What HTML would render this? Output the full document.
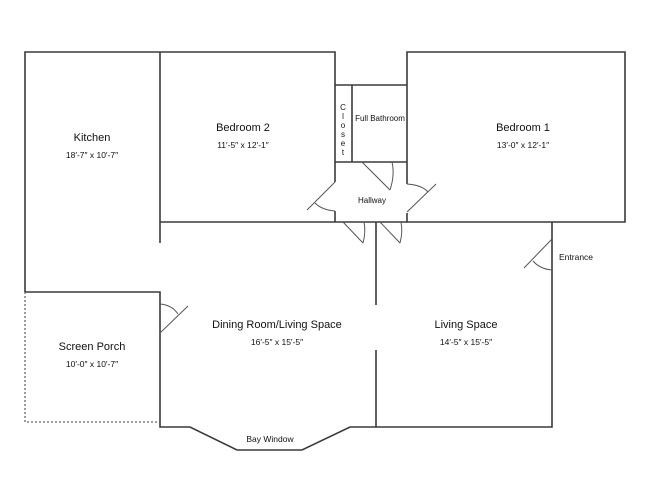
<!DOCTYPE html>
<html><head><meta charset="utf-8"><style>body{margin:0;background:#fff}svg{display:block}text{font-family:"Liberation Sans",sans-serif;fill:#111}</style></head>
<body>
<svg width="650" height="502" viewBox="0 0 650 502" xmlns="http://www.w3.org/2000/svg">
<g fill="none" stroke="#3a3a3a" stroke-width="1.6">
<path d="M25,292 V52 H335 V182 M335,211 V222"/>
<path d="M160,52 V243"/>
<path d="M160,222 H335"/>
<path d="M335,85 H407"/>
<path d="M407,184 V52 H625 V222 H407 V213"/>
<path d="M352,85 V162"/>
<path d="M335,162 H407"/>
<path d="M335,222 H407"/>
<path d="M376,222 V305 M376,350 V427"/>
<path d="M552,222 V427 H350 L302,450 H237 L190,427 H160 V292 H25"/>
</g>
<g fill="none" stroke="#666" stroke-width="1.3" stroke-dasharray="2,2">
<path d="M25,292 V422 H160"/>
</g>
<g fill="none" stroke="#555" stroke-width="1">
<path d="M362,162 L390,190"/><path d="M390,190 Q395,175 392,162"/>
<path d="M307,210 L335,182"/><path d="M315,203 Q322,210 335,211"/>
<path d="M407,212 L436,184"/><path d="M407,184 Q422,185 428,192"/>
<path d="M343,222 L363,243"/><path d="M363,243 Q366,232 364,222"/>
<path d="M380,222 L400,243"/><path d="M400,243 Q403,232 401,222"/>
<path d="M160,333 L188,306"/><path d="M160,304 Q172,305 178,314"/>
<path d="M552,239 L524,268"/><path d="M533,261 Q540,269 552,270"/>
</g>
<g text-anchor="middle">
<text x="92" y="141" font-size="11">Kitchen</text>
<text x="92" y="158" font-size="8.5">18′-7″ x 10′-7″</text>
<text x="243" y="131" font-size="11">Bedroom 2</text>
<text x="243" y="148" font-size="8.5">11′-5″ x 12′-1″</text>
<text x="523" y="131" font-size="11">Bedroom 1</text>
<text x="523" y="148" font-size="8.5">13′-0″ x 12′-1″</text>
<text x="380" y="121" font-size="8">Full Bathroom</text>
<text x="343" y="110" font-size="8">C</text>
<text x="343" y="119" font-size="8">l</text>
<text x="343" y="128" font-size="8">o</text>
<text x="343" y="137" font-size="8">s</text>
<text x="343" y="146" font-size="8">e</text>
<text x="343" y="155" font-size="8">t</text>
<text x="372" y="203" font-size="8">Hallway</text>
<text x="92" y="350" font-size="11">Screen Porch</text>
<text x="92" y="367" font-size="8.5">10′-0″ x 10′-7″</text>
<text x="277" y="328" font-size="11">Dining Room/Living Space</text>
<text x="277" y="345" font-size="8.5">16′-5″ x 15′-5″</text>
<text x="466" y="328" font-size="11">Living Space</text>
<text x="466" y="345" font-size="8.5">14′-5″ x 15′-5″</text>
<text x="270" y="442" font-size="8.5">Bay Window</text>
</g>
<text x="559" y="260" font-size="8.5">Entrance</text>
</svg>
</body></html>
